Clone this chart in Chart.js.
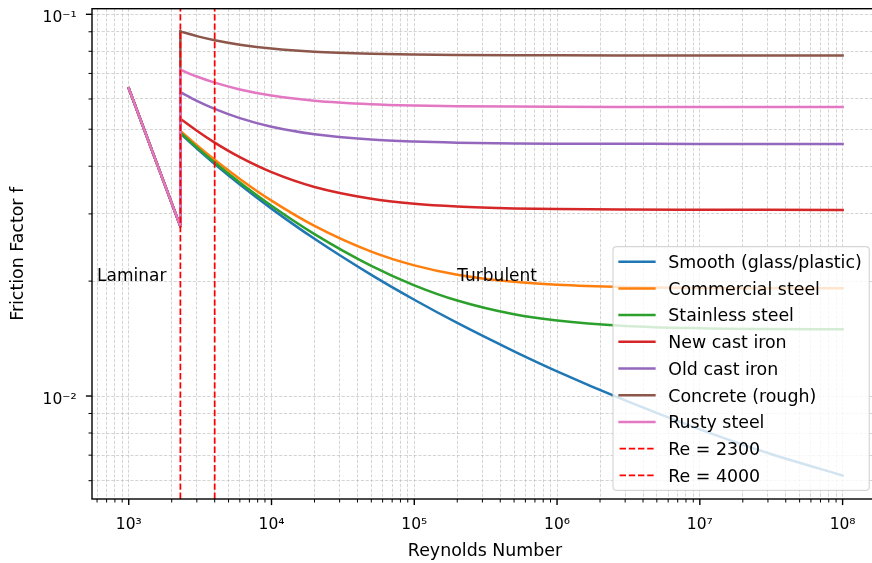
<!DOCTYPE html>
<html>
<head>
<meta charset="utf-8">
<script src="https://cdn.jsdelivr.net/npm/chart.js@4.4.1/dist/chart.umd.min.js"></script>
<style>
html,body{margin:0;padding:0;overflow:hidden;background:#fff}
#wrap{width:880px;height:563px}
</style>
</head>
<body>
<div id="wrap"><canvas id="c" width="880" height="563"></canvas></div>
<script>
// ---- data ----
const laminarRe = [1000, 2300];
const laminarF = [0.064, 0.02783];

const turbRe = [2300, 3000, 4000, 6000, 1e4, 2e4, 5e4, 1e5, 2e5, 5e5, 1e6, 3e6, 1e7, 3e7, 1e8];

const materials = ['Smooth (glass/plastic)', 'Commercial steel', 'Stainless steel',
  'New cast iron', 'Old cast iron', 'Concrete (rough)', 'Rusty steel'];

const smoothF     = [0.04867, 0.04449, 0.04055, 0.03583, 0.03097, 0.02581, 0.02076, 0.01787, 0.01554, 0.01310, 0.01161, 0.00974, 0.00818, 0.00709, 0.00619];
const commercialF = [0.04950, 0.04541, 0.04158, 0.03705, 0.03250, 0.02791, 0.02389, 0.02199, 0.02079, 0.01991, 0.01956, 0.01930, 0.01920, 0.01916, 0.01915];
const stainlessF  = [0.04895, 0.04480, 0.04090, 0.03624, 0.03150, 0.02655, 0.02192, 0.01950, 0.01779, 0.01637, 0.01576, 0.01526, 0.01505, 0.01498, 0.01495];
const newCastF    = [0.05328, 0.04953, 0.04611, 0.04223, 0.03858, 0.03528, 0.03286, 0.03190, 0.03137, 0.03101, 0.03088, 0.03079, 0.03075, 0.03074, 0.03073];
const oldCastF    = [0.06253, 0.05933, 0.05651, 0.05346, 0.05076, 0.04851, 0.04698, 0.04641, 0.04610, 0.04590, 0.04583, 0.04578, 0.04576, 0.04575, 0.04575];
const concreteF   = [0.09019, 0.08766, 0.08551, 0.08326, 0.08135, 0.07981, 0.07881, 0.07844, 0.07825, 0.07812, 0.07807, 0.07804, 0.07803, 0.07802, 0.07802];
const rustyF      = [0.07158, 0.06870, 0.06621, 0.06356, 0.06127, 0.05940, 0.05816, 0.05770, 0.05746, 0.05730, 0.05724, 0.05720, 0.05718, 0.05718, 0.05718];

const materialF = [smoothF, commercialF, stainlessF, newCastF, oldCastF, concreteF, rustyF];

const transitionRe = [2300, 4000];
const transitionLabels = ['Re = 2300', 'Re = 4000'];

const xMajorTicks = [1e3, 1e4, 1e5, 1e6, 1e7, 1e8];
const xTickLabels = ['10³', '10⁴', '10⁵', '10⁶', '10⁷', '10⁸'];
const yMajorTicks = [0.01, 0.1];
const yTickLabels = ['10⁻²', '10⁻¹'];

const annotationText = ['Laminar', 'Turbulent'];
const annotationRe = [600, 2e5];
const annotationF = [0.02, 0.02];

// ---- axis limits / styles ----
const X_MIN = 553, X_MAX = 1.77e8;
const Y_MIN = 0.005373, Y_MAX = 0.10344;
const COLORS = ['#1f77b4', '#ff7f0e', '#2ca02c', '#d62728', '#9467bd', '#8c564b', '#e377c2'];
const VLINE_COLOR = '#ff0000';
const FONT = '"DejaVu Sans", "Liberation Sans", sans-serif';
const GRID_COLOR = 'rgba(176,176,176,0.6)';

function logTicks(min, max) {
  const out = [];
  for (let e = Math.floor(Math.log10(min)); e <= Math.ceil(Math.log10(max)); e++) {
    for (let k = 1; k < 10; k++) {
      const v = parseFloat((k * Math.pow(10, e)).toPrecision(12));
      if (v >= min && v <= max) out.push(v);
    }
  }
  return out;
}
function majorIndex(v, majors) {
  return majors.findIndex(m => Math.abs(v / m - 1) < 1e-6);
}

// ---- datasets ----
const datasets = [];
let seq = 0;
const lineStyle = (c) => ({
  borderColor: c, backgroundColor: c, borderWidth: 2.5, pointRadius: 0,
  borderJoinStyle: 'round', borderCapStyle: 'square', fill: false
});
materials.forEach((name, i) => {
  const f = materialF[i];
  datasets.push(Object.assign({
    label: name,
    data: [
      {x: laminarRe[0], y: laminarF[0]},
      {x: laminarRe[1], y: laminarF[1]},
      {x: turbRe[0], y: f[0]}
    ],
    tension: 0,
    order: 1000 - (seq++)
  }, lineStyle(COLORS[i])));
  datasets.push(Object.assign({
    label: name,
    data: turbRe.map((r, j) => ({x: r, y: f[j]})),
    cubicInterpolationMode: 'monotone',
    order: 1000 - (seq++)
  }, lineStyle(COLORS[i])));
});
transitionRe.forEach((re, i) => {
  datasets.push({
    label: transitionLabels[i],
    data: [{x: re, y: Y_MIN}, {x: re, y: Y_MAX}],
    borderColor: VLINE_COLOR, borderWidth: 1.74, borderDash: [6.4, 2.8],
    pointRadius: 0, tension: 0, fill: false,
    order: 1000 - (seq++)
  });
});

function roundRectPath(ctx, x, y, w, h, r) {
  ctx.beginPath();
  ctx.moveTo(x + r, y);
  ctx.lineTo(x + w - r, y);
  ctx.arcTo(x + w, y, x + w, y + r, r);
  ctx.lineTo(x + w, y + h - r);
  ctx.arcTo(x + w, y + h, x + w - r, y + h, r);
  ctx.lineTo(x + r, y + h);
  ctx.arcTo(x, y + h, x, y + h - r, r);
  ctx.lineTo(x, y + r);
  ctx.arcTo(x, y, x + r, y, r);
  ctx.closePath();
}

const overlay = {
  id: 'overlay',
  afterDatasetsDraw(chart) {
    const {ctx, scales: {x, y}} = chart;
    ctx.save();
    ctx.font = '17px ' + FONT;
    ctx.fillStyle = '#000';
    ctx.textAlign = 'left';
    ctx.textBaseline = 'alphabetic';
    annotationText.forEach((t, i) => {
      ctx.fillText(t, x.getPixelForValue(annotationRe[i]), y.getPixelForValue(annotationF[i]));
    });
    ctx.restore();
  },
  afterDraw(chart) {
    const {ctx, chartArea: ca, scales: {x, y}} = chart;
    ctx.save();
    ctx.strokeStyle = '#000';
    ctx.setLineDash([]);
    // tick marks
    x.ticks.forEach(t => {
      const px = x.getPixelForValue(t.value);
      const maj = majorIndex(t.value, xMajorTicks) >= 0;
      ctx.lineWidth = maj ? 1.4 : 1.0;
      ctx.beginPath();
      ctx.moveTo(px, ca.bottom);
      ctx.lineTo(px, ca.bottom + (maj ? 6.1 : 3.5));
      ctx.stroke();
    });
    y.ticks.forEach(t => {
      const py = y.getPixelForValue(t.value);
      const maj = majorIndex(t.value, yMajorTicks) >= 0;
      ctx.lineWidth = maj ? 1.4 : 1.0;
      ctx.beginPath();
      ctx.moveTo(ca.left, py);
      ctx.lineTo(ca.left - (maj ? 6.1 : 3.5), py);
      ctx.stroke();
    });
    // spines
    ctx.lineWidth = 1.4;
    ctx.strokeRect(ca.left, ca.top, ca.right - ca.left, ca.bottom - ca.top);

    // legend
    const fs = 17.4;
    ctx.font = fs + 'px ' + FONT;
    const entries = materials.map((m, i) => ({label: m, color: COLORS[i], dash: [], w: 2.5, cap: 'square'}))
      .concat(transitionLabels.map(l => ({label: l, color: VLINE_COLOR, dash: [6.4, 2.8], w: 1.74, cap: 'butt'})));
    const maxW = Math.max(...entries.map(e => ctx.measureText(e.label).width));
    const pitch = 26.7, padTop = 15;
    const h = padTop * 2 + pitch * (entries.length - 1);
    const w = 55.3 + maxW + 7.5;
    const right = ca.right - 8.7, bottom = ca.bottom - 8.7;
    const left = right - w, top = bottom - h;
    roundRectPath(ctx, left, top, w, h, 3.5);
    ctx.fillStyle = 'rgba(255,255,255,0.8)';
    ctx.fill();
    ctx.strokeStyle = 'rgba(204,204,204,0.8)';
    ctx.lineWidth = 1.2;
    ctx.stroke();
    entries.forEach((e, i) => {
      const cy = top + padTop + i * pitch;
      ctx.beginPath();
      ctx.setLineDash(e.dash);
      ctx.strokeStyle = e.color;
      ctx.lineWidth = e.w;
      ctx.lineCap = e.cap;
      ctx.moveTo(left + 6.6, cy);
      ctx.lineTo(left + 41.4, cy);
      ctx.stroke();
      ctx.setLineDash([]);
      ctx.fillStyle = '#000';
      ctx.textAlign = 'left';
      ctx.textBaseline = 'alphabetic';
      ctx.fillText(e.label, left + 55.3, cy + 6.3);
    });
    ctx.restore();
  }
};

const zeroPad = (s) => { s.paddingTop = 0; s.paddingBottom = 0; s.paddingLeft = 0; s.paddingRight = 0; };

new Chart(document.getElementById('c'), {
  type: 'line',
  data: {datasets},
  options: {
    responsive: false,
    animation: false,
    devicePixelRatio: 1,
    events: [],
    layout: {padding: {top: 8.7, right: 2, left: 0, bottom: 0}},
    plugins: {legend: {display: false}, tooltip: {enabled: false}},
    scales: {
      x: {
        type: 'logarithmic',
        min: X_MIN, max: X_MAX,
        afterBuildTicks: (s) => { s.ticks = logTicks(X_MIN, X_MAX).map(v => ({value: v, major: majorIndex(v, xMajorTicks) >= 0})); },
        afterFit: (s) => { s.height = 64; zeroPad(s); },
        grid: {display: true, drawTicks: false, color: GRID_COLOR, lineWidth: 0.9},
        border: {display: false, dash: [3.2, 1.6]},
        ticks: {
          autoSkip: false, maxRotation: 0, minRotation: 0, padding: 16.7,
          color: '#000', font: {family: FONT, size: 15.5},
          callback: (v) => { const k = majorIndex(v, xMajorTicks); return k >= 0 ? xTickLabels[k] : ''; }
        },
        title: {display: true, text: 'Reynolds Number', color: '#000',
          font: {family: FONT, size: 17.4}, padding: {top: 0, bottom: 1.3}}
      },
      y: {
        type: 'logarithmic',
        min: Y_MIN, max: Y_MAX,
        afterBuildTicks: (s) => { s.ticks = logTicks(Y_MIN, Y_MAX).map(v => ({value: v, major: majorIndex(v, yMajorTicks) >= 0})); },
        afterFit: (s) => { s.width = 92; zeroPad(s); },
        grid: {display: true, drawTicks: false, color: GRID_COLOR, lineWidth: 0.9},
        border: {display: false, dash: [3.2, 1.6]},
        ticks: {
          autoSkip: false, padding: 15.3, labelOffset: 3.5,
          color: '#000', font: {family: FONT, size: 15.5},
          callback: (v) => { const k = majorIndex(v, yMajorTicks); return k >= 0 ? yTickLabels[k] : ''; }
        },
        title: {display: true, text: 'Friction Factor f', color: '#000',
          font: {family: FONT, size: 17.4}, padding: {top: 8, bottom: 0}}
      }
    }
  },
  plugins: [overlay]
});
</script>
</body>
</html>
